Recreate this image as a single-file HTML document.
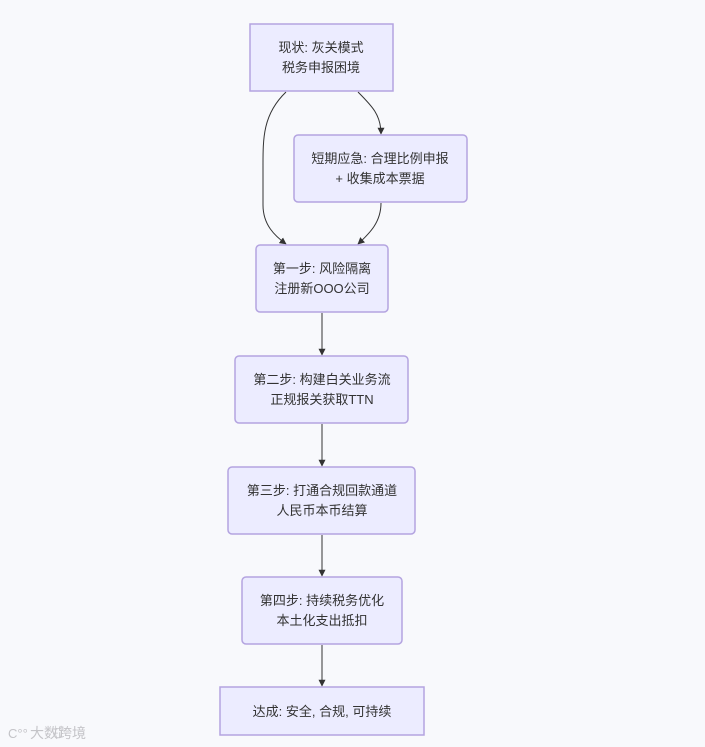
<!DOCTYPE html>
<html><head><meta charset="utf-8"><style>
html,body{margin:0;padding:0;background:#f8f9fc;}
svg{display:block}
text{font-family:"Liberation Sans","Noto Sans CJK SC",sans-serif;font-size:13px;fill:#333;text-anchor:middle}
</style></head><body>
<svg width="705" height="747" viewBox="0 0 705 747" xmlns="http://www.w3.org/2000/svg">
<defs><marker id="a" viewBox="0 0 10 10" refX="9" refY="5" markerWidth="7" markerHeight="7" orient="auto"><path d="M0,0L10,5L0,10z" fill="#333"/></marker></defs>
<g fill="none" stroke="#333" stroke-width="1">
<path d="M286,92 C262,115 263,140 263,170 L263,205 C263,225 275,236 286,244" marker-end="url(#a)"/>
<path d="M358,92 C372,106 381,115 381,134" marker-end="url(#a)"/>
<path d="M381,203 C381,222 370,233 358,244" marker-end="url(#a)"/>
<path d="M322,313 L322,355" marker-end="url(#a)"/>
<path d="M322,424 L322,466" marker-end="url(#a)"/>
<path d="M322,535 L322,576" marker-end="url(#a)"/>
<path d="M322,645 L322,686" marker-end="url(#a)"/>
</g>
<g fill="#ececff" stroke="#b4a4e0" stroke-width="1.5">
<rect x="250" y="24" width="143" height="67"/>
<rect x="294" y="135" width="173" height="67" rx="4"/>
<rect x="256" y="245" width="132" height="67" rx="4"/>
<rect x="235" y="356" width="173" height="67" rx="4"/>
<rect x="228" y="467" width="187" height="67" rx="4"/>
<rect x="242" y="577" width="160" height="67" rx="4"/>
<rect x="220" y="687" width="204" height="48"/>
</g>
<text x="321" y="52">现状: 灰关模式</text><text x="321" y="72">税务申报困境</text>
<text x="380" y="163">短期应急: 合理比例申报</text><text x="380" y="183">+ 收集成本票据</text>
<text x="322" y="273">第一步: 风险隔离</text><text x="322" y="293">注册新OOO公司</text>
<text x="322" y="384">第二步: 构建白关业务流</text><text x="322" y="404">正规报关获取TTN</text>
<text x="322" y="495">第三步: 打通合规回款通道</text><text x="322" y="515">人民币本币结算</text>
<text x="322" y="605">第四步: 持续税务优化</text><text x="322" y="625">本土化支出抵扣</text>
<text x="322" y="716">达成: 安全, 合规, 可持续</text>
<text x="52" y="738" style="font-size:14px;fill:#c8c8cc;text-anchor:start" x="8">ꀀ</text>
<text x="30" y="738" style="font-size:14px;fill:#c4c4c8;text-anchor:start">大数跨境</text>
<text x="8" y="738" style="font-size:13px;fill:#c4c4c8;text-anchor:start">C°°</text>
</svg>
</body></html>
